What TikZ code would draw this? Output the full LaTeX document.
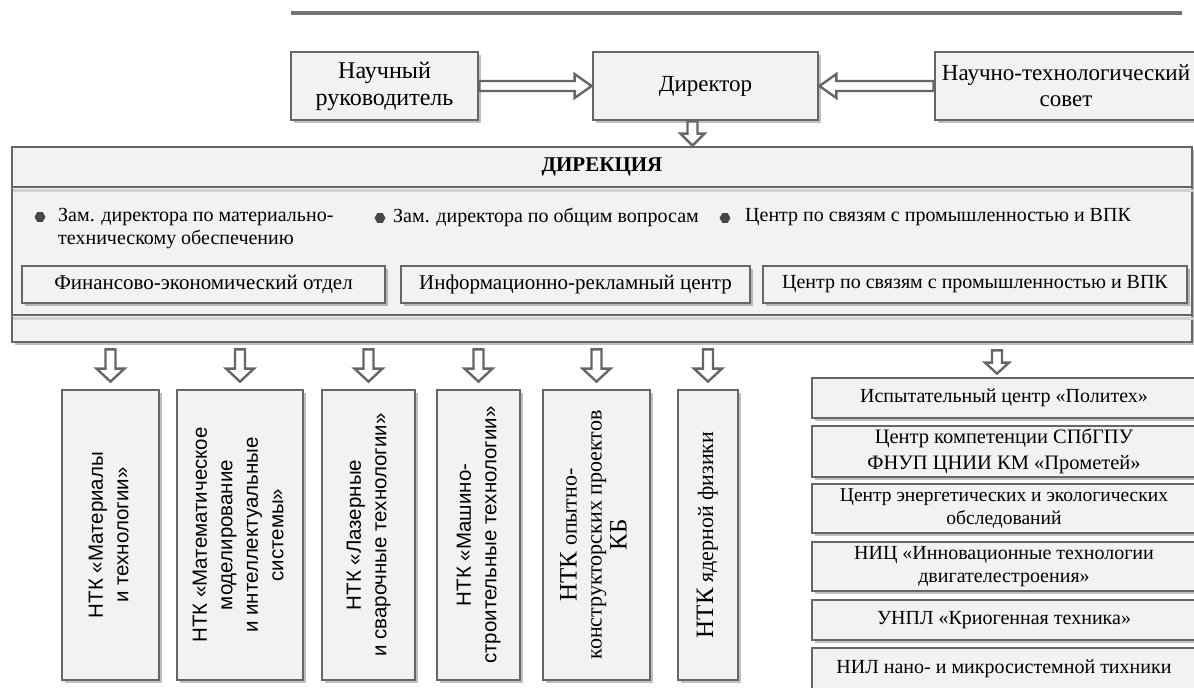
\documentclass[tikz,border=0pt]{standalone}
\usepackage{fontspec}
\setmainfont{Liberation Serif}
\setsansfont{Liberation Sans}
\usetikzlibrary{calc, shadows, shapes.geometric}

\definecolor{framegray}{HTML}{666666}
\definecolor{boxfill}{HTML}{F2F2F2}
\definecolor{rulegray}{HTML}{737373}

\newcommand{\vtext}[1]{\rotatebox{90}{\begin{tabular}{@{}c@{}}#1\end{tabular}}}

\begin{document}
\begin{tikzpicture}
    [x=1pt, y=-1pt, font=\fontsize{21}{24}\selectfont,
    box/.style={rectangle, draw=framegray, line width=2.8pt, fill=boxfill, align=center, inner sep=2pt,
        drop shadow={shadow xshift=2.5pt, shadow yshift=-3pt, fill=black, opacity=0.25}},
    topbox/.style={box, minimum height=68pt, font=\fontsize{23}{26}\selectfont},
    inbox/.style={box, minimum height=37pt},
    vbox/.style={box, minimum height=290pt},
    rbox/.style={box, minimum width=384pt, font=\fontsize{20}{24}\selectfont},
    bul/.style={regular polygon, regular polygon sides=6, fill=framegray!70!black, minimum size=11pt, inner sep=0pt},
    item/.style={anchor=west, align=left, inner sep=0pt, font=\fontsize{20}{23.5}\selectfont},
    hollow/.style n args={3}{draw=framegray, line width=2.4pt, fill=white,
        to path={let \p1=($(\tikztotarget)-(\tikztostart)$), \n1={atan2(\y1,\x1)}, \n2={veclen(\x1,\y1)} in
            ($(\tikztostart)+(\n1+90:#1)$)
            -- ($(\tikztostart)+(\n1:\n2-#3)+(\n1+90:#1)$)
            -- ($(\tikztostart)+(\n1:\n2-#3)+(\n1+90:#2)$)
            -- (\tikztotarget)
            -- ($(\tikztostart)+(\n1:\n2-#3)+(\n1-90:#2)$)
            -- ($(\tikztostart)+(\n1:\n2-#3)+(\n1-90:#1)$)
            -- ($(\tikztostart)+(\n1-90:#1)$) -- cycle}}]

    \useasboundingbox (0,0) rectangle (1194,688);

    \draw[rulegray, line width=3.5pt] (291,13) -- (1182,13);

    \node[topbox, minimum width=187pt, font=\fontsize{24}{27}\selectfont] (nauch) at (384.5,86) {Научный\\руководитель};
    \node[topbox, minimum width=225pt] (dir) at (705.5,86) {Директор};
    \node[topbox, minimum width=262pt] (sovet) at (1066,86) {Научно-технологический\\совет};

    \node[box, minimum width=1180pt, minimum height=195pt] (direk) at (602,244.5) {};
    \node[font=\fontsize{21}{24}\selectfont\bfseries] (dhead) at (602,167) {ДИРЕКЦИЯ};
    \coordinate (hline) at (0,187);
    \coordinate (bline) at (0,315);
    \foreach \l in {hline, bline} {
        \draw[black!18, line width=2.5pt] ($(direk.west |- \l)+(2,3.5)$) -- ($(direk.east |- \l)+(0,3.5)$);
        \draw[framegray, line width=2.8pt] (direk.west |- \l) -- (direk.east |- \l);
    }

    \node[bul] (b1) at (40,217) {};
    \node[item] (t1) at (58,228.5) {Зам. директора по материально-\\техническому обеспечению};
    \node[bul] (b2) at (380,218) {};
    \node[item] (t2) at (393,217) {Зам. директора по общим вопросам};
    \node[bul] (b3) at (725,218) {};
    \node[item] (t3) at (745,217) {Центр по связям с промышленностью и ВПК};

    \node[inbox, minimum width=363pt] (fin) at (203.5,284.5) {Финансово-экономический отдел};
    \node[inbox, minimum width=349pt] (info) at (575.5,284.5) {Информационно-рекламный центр};
    \node[inbox, minimum width=424pt, font=\fontsize{20}{24}\selectfont] (cvpk) at (975,284.5) {Центр по связям с промышленностью и ВПК};

    \begin{scope}[font=\sffamily\fontsize{20.5}{25.5}\selectfont]
        \node[vbox, minimum width=97pt] (nk1) at (110.5,535) {\vtext{НТК «Материалы\\и технологии»}};
        \node[vbox, minimum width=126pt] (nk2) at (240,535) {\vtext{НТК «Математическое\\моделирование\\и интеллектуальные\\системы»}};
        \node[vbox, minimum width=93pt] (nk3) at (368.5,535) {\vtext{НТК «Лазерные\\и сварочные технологии»}};
        \node[vbox, minimum width=83pt] (nk4) at (478.5,535) {\vtext{НТК «Машино-\\строительные технологии»}};
    \end{scope}
    \begin{scope}[font=\fontsize{22}{25}\selectfont]
        \node[vbox, minimum width=107pt] (nk5) at (596.5,535) {\vtext{{\fontsize{25}{25}\selectfont НТК} опытно-\\конструкторских проектов\\{\fontsize{25}{25}\selectfont КБ}}};
        \node[vbox, minimum width=60pt] (nk6) at (708,535) {\vtext{{\fontsize{25}{25}\selectfont НТК} ядерной физики}};
    \end{scope}

    \node[rbox, minimum height=40pt] (r1) at (1004,398) {Испытательный центр «Политех»};
    \node[rbox, minimum height=51pt, font=\fontsize{20.5}{26}\selectfont] (r2) at (1004,451.5) {Центр компетенции СПбГПУ\\ФНУП ЦНИИ КМ «Прометей»};
    \node[rbox, minimum height=49pt, font=\fontsize{19.5}{22.5}\selectfont] (r3) at (1004,508.5) {Центр энергетических и экологических\\обследований};
    \node[rbox, minimum height=49pt, font=\fontsize{20}{23}\selectfont] (r4) at (1004,566.5) {НИЦ «Инновационные технологии\\двигателестроения»};
    \node[rbox, minimum height=40pt] (r5) at (1004,620) {УНПЛ «Криогенная техника»};
    \node[rbox, minimum height=42pt] (r6) at (1004,669) {НИЛ нано- и микросистемной тихники};

    \draw[hollow={5pt}{12pt}{17pt}] (nauch.east) to (dir.west);
    \draw[hollow={5pt}{12pt}{17pt}] (sovet.west) to (dir.east);
    \coordinate (dtop) at ($(dir.south)+(-13,0)$);
    \draw[hollow={5pt}{12pt}{12pt}] (dtop) to (dtop |- direk.north);

    \foreach \k in {nk1, nk2, nk3, nk4, nk5, nk6} {
        \coordinate (\k src) at ($(\k.north |- direk.south)+(0,6)$);
        \coordinate (\k top) at ($(\k.north)+(0,-7)$);
        \draw[hollow={5pt}{14pt}{13pt}] (\k src) to (\k top);
    }
    \coordinate (r1src) at ($(r1.north |- direk.south)+(-7,7)$);
    \coordinate (r1top) at ($(r1.north)+(-7,-3)$);
    \draw[hollow={5pt}{12pt}{11pt}] (r1src) to (r1top);

\end{tikzpicture}
\end{document}
